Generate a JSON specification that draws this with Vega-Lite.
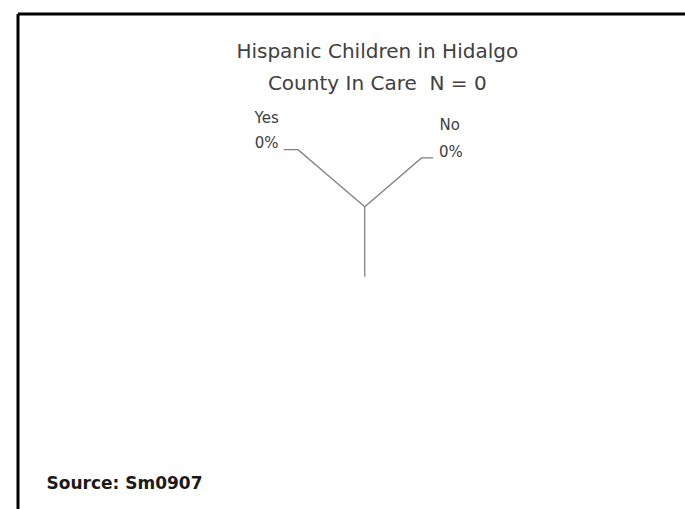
{
  "$schema": "https://vega.github.io/schema/vega-lite/v6.json",
  "width": 685,
  "height": 509,
  "autosize": {"type": "fit", "contains": "padding"},
  "padding": {"left": 17.5, "top": 13.5, "right": 0, "bottom": 0},
  "background": "white",
  "config": {"view": {"stroke": null}},
  "title": {
    "text": ["Hispanic Children in Hidalgo", "County In Care\u00a0 N = 0"],
    "font": "DejaVu Sans",
    "fontSize": 20,
    "fontWeight": "normal",
    "color": "#404040",
    "offset": -80,
    "dx": 26,
    "lineHeight": 32,
    "anchor": "middle"
  },
  "datasets": {
    "leaders": [
      {"slice": "Yes", "step": 0, "x": 0, "y": 0},
      {"slice": "Yes", "step": 1, "x": -66.7, "y": 57},
      {"slice": "Yes", "step": 2, "x": -81, "y": 57},
      {"slice": "No", "step": 0, "x": 0, "y": 0},
      {"slice": "No", "step": 1, "x": 56.7, "y": 48.7},
      {"slice": "No", "step": 2, "x": 68.3, "y": 48.7},
      {"slice": "Other", "step": 0, "x": 0, "y": 0},
      {"slice": "Other", "step": 1, "x": 0, "y": -70}
    ],
    "labels": [
      {"text": "Yes", "x": -98, "y": 89},
      {"text": "0%", "x": -98, "y": 64},
      {"text": "No", "x": 85, "y": 82},
      {"text": "0%", "x": 86, "y": 55}
    ],
    "source": [
      {"text": "Source: Sm0907", "x": -318, "y": -277}
    ]
  },
  "layer": [
    {
      "data": {"name": "leaders"},
      "mark": {"type": "line", "color": "#808080", "strokeWidth": 1.3},
      "encoding": {
        "x": {"field": "x", "type": "quantitative", "scale": {"domain": [-347, 320], "nice": false, "zero": false},
              "axis": {"orient": "top", "labels": false, "ticks": false, "grid": false, "title": null, "domainColor": "black", "domainWidth": 3}},
        "y": {"field": "y", "type": "quantitative", "scale": {"domain": [-302, 193], "nice": false, "zero": false},
              "axis": {"orient": "left", "labels": false, "ticks": false, "grid": false, "title": null, "domainColor": "black", "domainWidth": 3}},
        "detail": {"field": "slice"},
        "order": {"field": "step"}
      }
    },
    {
      "data": {"name": "labels"},
      "mark": {"type": "text", "font": "DejaVu Sans", "fontSize": 15, "color": "#404040", "align": "center", "baseline": "middle"},
      "encoding": {
        "x": {"field": "x", "type": "quantitative"},
        "y": {"field": "y", "type": "quantitative"},
        "text": {"field": "text"}
      }
    },
    {
      "data": {"name": "source"},
      "mark": {"type": "text", "font": "DejaVu Sans", "fontSize": 17, "fontWeight": "bold", "color": "#1a1a1a", "align": "left", "baseline": "middle"},
      "encoding": {
        "x": {"field": "x", "type": "quantitative"},
        "y": {"field": "y", "type": "quantitative"},
        "text": {"field": "text"}
      }
    }
  ]
}
